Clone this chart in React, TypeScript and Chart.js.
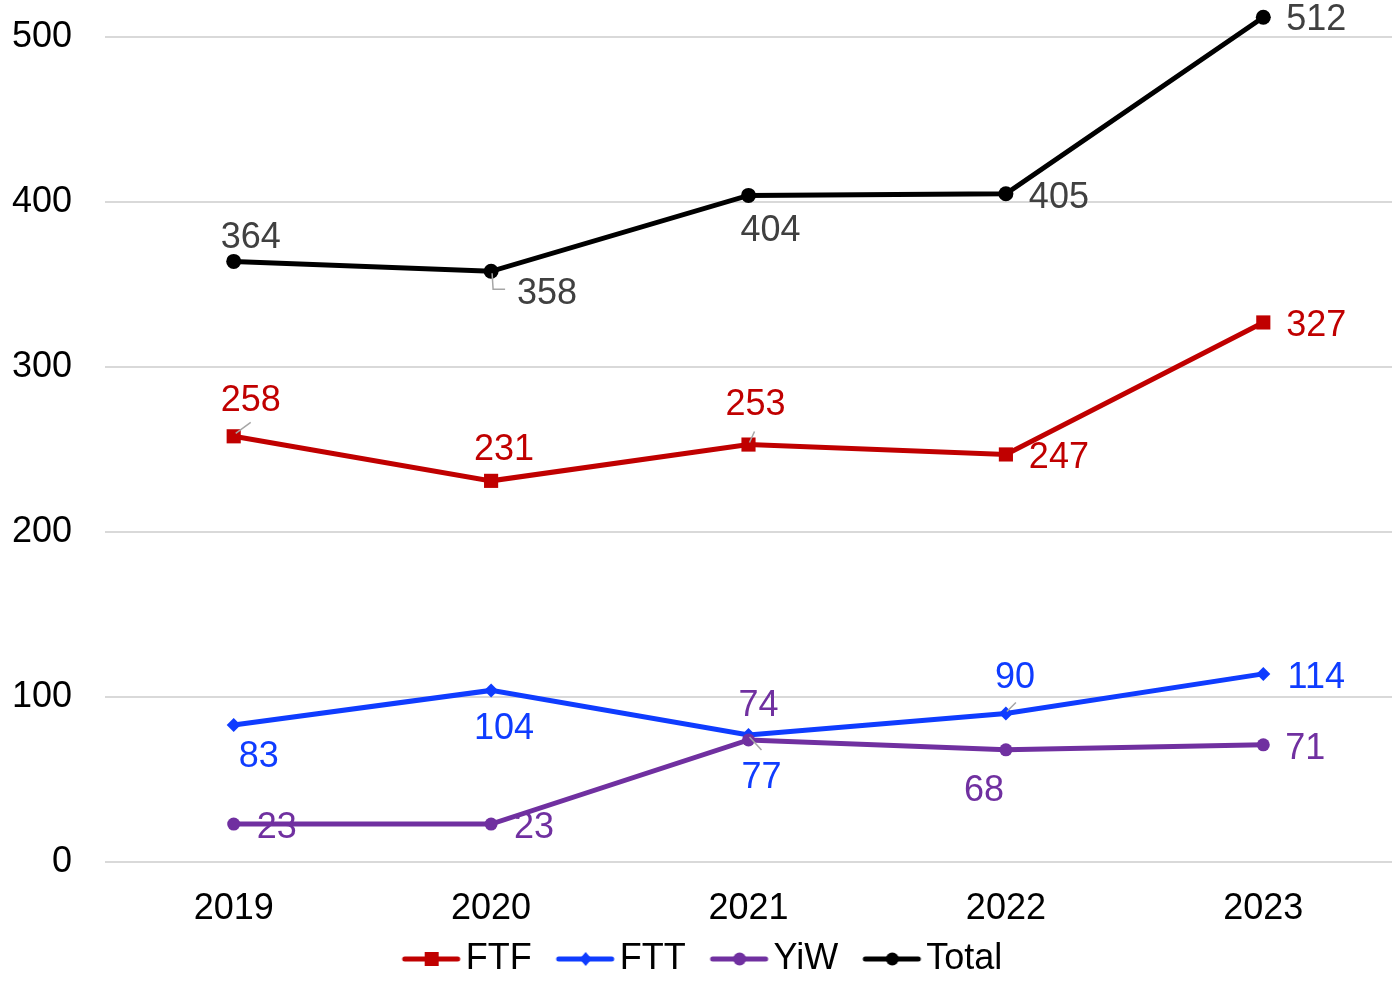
import React, { useEffect, useRef } from "react";
import { Chart, registerables } from "chart.js";

Chart.register(...registerables);

const years = ["2019", "2020", "2021", "2022", "2023"];
const ftf = [258, 231, 253, 247, 327];
const ftt = [83, 104, 77, 90, 114];
const yiw = [23, 23, 74, 68, 71];
const total = [364, 358, 404, 405, 512];
const yTicks = [0, 100, 200, 300, 400, 500];

const FONT = "'Liberation Sans', Arial, sans-serif";
const RED = "#C00000";
const BLUE = "#0F3CFF";
const PURPLE = "#7030A0";
const BLACK = "#000000";

// label placement offsets (dx, dy) relative to each point
const ftfLabelPos = [[17, -38], [13, -34], [7, -42], [53, 1], [53, 1]];
const fttLabelPos = [[25, 29], [13, 36], [13, 40], [9, -38], [53, 1]];
const yiwLabelPos = [[43, 1], [43, 1], [10, -37], [-22, 38], [42, 1]];
const totalLabelPos = [[17, -26], [56, 20], [22, 33], [53, 1], [53, 0]];

function makeLegendMarker(color: string, style: string): HTMLCanvasElement {
  const c = document.createElement("canvas");
  c.width = 90;
  c.height = 20;
  const ctx = c.getContext("2d")!;
  ctx.strokeStyle = color;
  ctx.fillStyle = color;
  ctx.lineWidth = 5;
  ctx.lineCap = "round";
  ctx.beginPath();
  ctx.moveTo(31, 10);
  ctx.lineTo(84, 10);
  ctx.stroke();
  const cx = 58;
  const cy = 10;
  ctx.beginPath();
  if (style === "rect") {
    ctx.rect(cx - 7, cy - 7, 14, 14);
  } else if (style === "rectRot") {
    ctx.moveTo(cx, cy - 7);
    ctx.lineTo(cx + 6, cy);
    ctx.lineTo(cx, cy + 7);
    ctx.lineTo(cx - 6, cy);
    ctx.closePath();
  } else {
    ctx.arc(cx, cy, 6.5, 0, Math.PI * 2);
  }
  ctx.fill();
  return c;
}

const labelPlugin = {
  id: "pointLabels",
  afterDatasetsDraw(chart: any) {
    const ctx = chart.ctx;
    ctx.save();
    ctx.font = `36px ${FONT}`;
    ctx.textAlign = "center";
    ctx.textBaseline = "middle";
    chart.data.datasets.forEach((ds: any, di: number) => {
      const meta = chart.getDatasetMeta(di);
      meta.data.forEach((pt: any, i: number) => {
        const [dx, dy] = ds.labelPos[i];
        ctx.fillStyle = ds.labelColor;
        ctx.fillText(String(ds.data[i]), pt.x + dx, pt.y + dy + 3);
      });
    });
    // leader lines
    ctx.strokeStyle = "#A6A6A6";
    ctx.lineWidth = 1.5;
    const leaders: [number, number, number[][]][] = [
      [0, 0, [[2, -3], [17, -14]]],
      [3, 1, [[1, 2], [2, 18], [14, 18]]],
      [0, 2, [[1, -2], [6, -13]]],
      [1, 2, [[1, 2], [13, 15]]],
      [1, 3, [[1, -2], [10, -11]]],
    ];
    leaders.forEach(([di, i, pts]) => {
      const pt = chart.getDatasetMeta(di).data[i];
      ctx.beginPath();
      pts.forEach(([x, y], k) => {
        if (k === 0) ctx.moveTo(pt.x + x, pt.y + y);
        else ctx.lineTo(pt.x + x, pt.y + y);
      });
      ctx.stroke();
    });
    ctx.restore();
  },
};

const zeroPad = (s: any) => {
  s.paddingTop = 0;
  s.paddingBottom = 0;
  s.paddingLeft = 0;
  s.paddingRight = 0;
};

export default function App() {
  const ref = useRef<HTMLCanvasElement>(null);
  useEffect(() => {
    const markers = [
      makeLegendMarker(RED, "rect"),
      makeLegendMarker(BLUE, "rectRot"),
      makeLegendMarker(PURPLE, "circle"),
      makeLegendMarker(BLACK, "circle"),
    ];
    const mk = (label: string, data: number[], color: string, pointStyle: string, radius: number, order: number, labelPos: number[][], labelColor: string) => ({
      label,
      data,
      borderColor: color,
      backgroundColor: color,
      borderWidth: 5,
      pointStyle,
      pointRadius: radius,
      pointBorderWidth: 0,
      pointBackgroundColor: color,
      tension: 0,
      clip: false,
      order,
      labelPos,
      labelColor,
    });
    const chart = new Chart(ref.current!, {
      type: "line",
      data: {
        labels: years,
        datasets: [
          mk("FTF", ftf, RED, "rect", 10, 1, ftfLabelPos, RED),
          mk("FTT", ftt, BLUE, "rectRot", 7, 3, fttLabelPos, BLUE),
          mk("YiW", yiw, PURPLE, "circle", 6.5, 2, yiwLabelPos, PURPLE),
          mk("Total", total, BLACK, "circle", 7.5, 0, totalLabelPos, "#404040"),
        ] as any,
      },
      options: {
        animation: false,
        responsive: false,
        maintainAspectRatio: false,
        layout: { autoPadding: false, padding: { top: 12.25, right: 0, left: 0, bottom: 0 } },
        plugins: {
          tooltip: { enabled: false },
          legend: {
            position: "bottom",
            labels: {
              usePointStyle: true,
              pointStyleWidth: 58,
              boxHeight: 20,
              padding: 12,
              color: "#000",
              font: { family: FONT, size: 36 },
              generateLabels: (c: any) =>
                c.data.datasets.map((ds: any, i: number) => ({
                  text: ds.label,
                  pointStyle: markers[i],
                  fillStyle: ds.borderColor,
                  strokeStyle: ds.borderColor,
                  lineWidth: 0,
                  hidden: false,
                  datasetIndex: i,
                  fontColor: "#000",
                })),
            },
          },
        },
        scales: {
          x: {
            offset: true,
            grid: { display: false },
            border: { display: false },
            ticks: { color: "#000", font: { family: FONT, size: 36 }, padding: 17, maxRotation: 0 },
            afterFit: (s: any) => {
              s.height = 67;
              zeroPad(s);
            },
          },
          y: {
            min: 0,
            max: 515,
            grid: { color: "#D9D9D9", lineWidth: 2, drawTicks: false },
            border: { display: false },
            afterBuildTicks: (s: any) => {
              s.ticks = yTicks.map((v) => ({ value: v }));
            },
            ticks: { color: "#000", font: { family: FONT, size: 36 }, padding: 33 },
            afterFit: (s: any) => {
              s.width = 105;
              zeroPad(s);
            },
          },
        },
      } as any,
      plugins: [labelPlugin],
    });
    return () => chart.destroy();
  }, []);
  return (
    <div style={{ position: "fixed", left: 0, top: 0, width: 1392, height: 987, background: "#fff" }}>
      <canvas ref={ref} width={1392} height={987} style={{ width: 1392, height: 987, display: "block" }} />
    </div>
  );
}
